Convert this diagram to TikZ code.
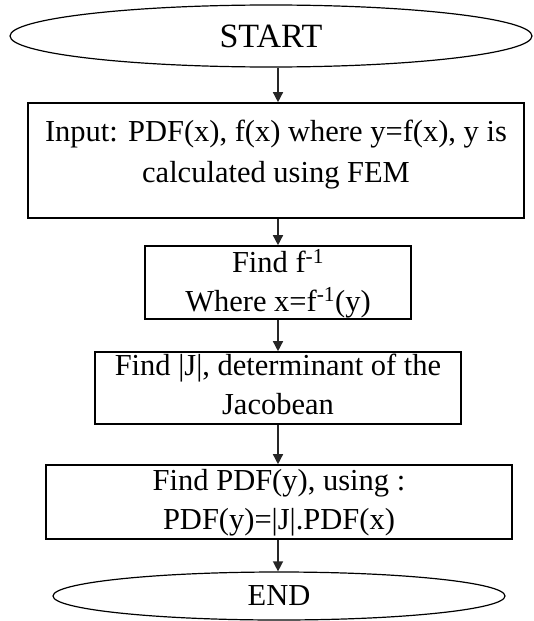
\documentclass[tikz,border=0pt]{standalone}
\usepackage{fontspec}
\setmainfont{Liberation Serif}
\usetikzlibrary{shapes.geometric,arrows.meta}
\begin{document}
\begin{tikzpicture}[x=1pt,y=-1pt,
  every node/.style={font=\fontsize{30.5}{38.5}\selectfont},
  stepbox/.style={draw, line width=1.6pt, inner sep=0pt, align=center, anchor=base},
  terminal/.style={draw, ellipse, line width=1.2pt, inner sep=0pt},
  flow/.style={line width=1.4pt, draw=black!85, -{Triangle[width=10pt,length=10pt]}}]
\useasboundingbox (0,0) rectangle (533,621);

% terminals and process steps
\node[terminal, minimum width=522pt, minimum height=62pt,
      font=\fontsize{34}{40}\selectfont] (start) at (271,36) {START};
\node[stepbox, minimum width=496pt, text height=79pt, text depth=36pt,
      font=\fontsize{30.5}{41}\selectfont] (b1) at (276,182)
  {Input: PDF(x), f(x) where y=f(x), y is\\calculated using FEM};
\node[stepbox, minimum width=266pt, text height=65pt, text depth=8pt] (b2) at (278,311)
  {Find f\textsuperscript{-1}\\Where x=f\textsuperscript{-1}(y)};
\node[stepbox, minimum width=366pt, text height=62pt, text depth=10pt] (b3) at (278,414)
  {Find |J|, determinant of the\\Jacobean};
\node[stepbox, minimum width=466pt, text height=64pt, text depth=10pt] (b4) at (279,529)
  {Find PDF(y), using :\\PDF(y)=|J|.PDF(x)};
\node[terminal, minimum width=452pt, minimum height=48pt] (stop) at (279,596) {END};

% vertical line of the flow
\coordinate (spine) at (278,0);
\draw[flow] (start.south -| spine) -- (b1.north -| spine);
\draw[flow] (b1.south -| spine) -- (b2.north -| spine);
\draw[flow] (b2.south -| spine) -- (b3.north -| spine);
\draw[flow] (b3.south -| spine) -- (b4.north -| spine);
\draw[flow] (b4.south -| spine) -- (stop.north -| spine);
\end{tikzpicture}
\end{document}
